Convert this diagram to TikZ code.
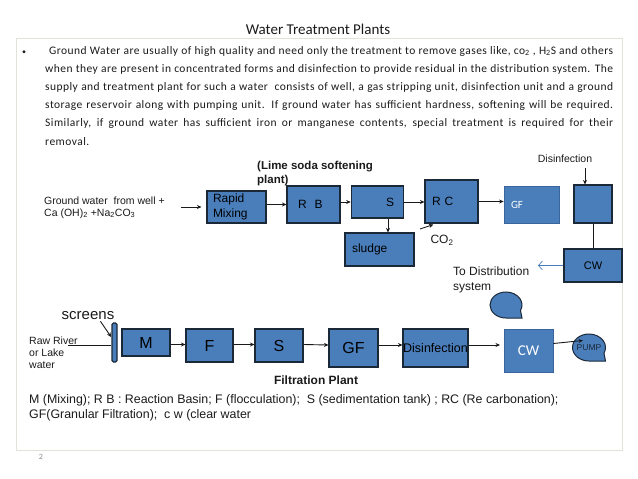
\documentclass[tikz,border=0pt]{standalone}
\usepackage{fontspec}
\setmainfont{Carlito}
\newfontfamily\arialf{Liberation Sans}
\newfontfamily\spacedf[LetterSpace=4]{Carlito}
\usetikzlibrary{arrows.meta, positioning, calc}
\definecolor{unitblue}{HTML}{4A7EBB}
\definecolor{unitedge}{HTML}{1B2838}
\definecolor{softedge}{HTML}{3A649C}
\definecolor{framegray}{HTML}{E2E2DA}
\definecolor{textdark}{HTML}{1A1A1A}
\newcommand{\seqstore}[4]{% x, y, x radius, y radius
  \draw[store] (#1,#2) ++(0,#4) arc[start angle=90, end angle=385, x radius=#3, y radius=#4] --
    (#1+#3,#2+#4) -- cycle;%
}
\tikzset{
  unit/.style={rectangle, draw=unitedge, fill=unitblue, line width=1.1pt, inner sep=0pt, text=black, font=\arialf\fontsize{12}{15}\selectfont},
  softunit/.style={unit, draw=softedge, line width=0.8pt, text=white},
  arr/.style={-{Stealth[length=4.5pt,width=4pt]}, line width=0.9pt, textdark},
  link/.style={line width=0.9pt, textdark},
  oarr/.style={-{Straight Barb[length=4pt,width=9pt]}, line width=0.7pt, unitblue},
  lbl/.style={inner sep=0pt, align=left, text=textdark, font=\arialf\fontsize{12}{15}\selectfont},
  store/.style={draw=unitedge, fill=unitblue, line width=1pt},
}

\begin{document}
\begin{tikzpicture}[x=1pt, y=-1pt]
  \useasboundingbox (0,0) rectangle (638,479);
  \draw[framegray, line width=0.6pt] (16,38) rectangle (622,450);

  % title and text
  \node[font=\fontsize{15}{17}\selectfont, text=textdark] (title) at (318,29) {Water Treatment Plants};
  \node[font=\fontsize{8}{10}\selectfont, text=textdark] (bullet) at (24,53) {•};
  \node[anchor=north west, inner sep=0pt, text width=568pt, align=justify, text=textdark,
    font=\spacedf\fontsize{11.5}{18.2}\selectfont] (intro) at (45,46)
    {\hspace*{4pt}Ground Water are usually of high quality and need only the treatment to remove gases like, co\textsubscript{2} , H\textsubscript{2}S and others\linebreak
    when they are present in concentrated forms and disinfection to provide residual in the distribution system. The\linebreak
    supply and treatment plant for such a water\ \ consists of well, a gas stripping unit, disinfection unit and a ground\linebreak
    storage reservoir along with pumping unit. If ground water has sufficient hardness, softening will be required.\linebreak
    Similarly, if ground water has sufficient iron or manganese contents, special treatment is required for their\linebreak
    removal.};

  % lime soda softening plant
  \node[lbl, anchor=west, font=\arialf\fontsize{10.5}{12}\selectfont] (well) at (44,207.5)
    {Ground water\ \ from well +\\Ca (OH)\textsubscript{2} +Na\textsubscript{2}CO\textsubscript{3}};
  \coordinate (wellend) at (181,207);
  \node[lbl, anchor=west, font=\arialf\bfseries\fontsize{11.5}{14}\selectfont] (limelab) at (257,174)
    {(Lime soda softening\\plant)};
  \node[unit, minimum height=32pt, text width=47pt, inner xsep=6pt, align=left] (mix) at (236.5,207) {Rapid\\Mixing};
  \node[unit, minimum height=37pt, text width=31pt, inner xsep=11pt, align=left] (rb) at (313.5,204.5) {R\ \ B};
  \node[unit, minimum height=32pt, text width=33.5pt, inner xsep=9.5pt, align=right] (sa) at (377.5,202) {S};
  \node[unit, minimum height=43pt, text width=39pt, inner xsep=7pt, align=left] (rc) at (451.5,201.5) {R C};
  \node[softunit, minimum height=37pt, text width=41pt, inner xsep=7pt, align=left,
    font=\fontsize{11}{13}\selectfont] (gfa) at (531.5,205) {GF};
  \node[unit, minimum width=38pt, minimum height=38pt] (disa) at (593,204) {};
  \node[unit, minimum width=58pt, minimum height=33pt, font=\arialf\fontsize{11}{13}\selectfont] (cwa) at (593,265.5) {CW};
  \node[unit, minimum height=33pt, text width=55pt, inner xsep=7pt, align=left] (sludge) at (379.5,249.5) {sludge};
  \node[lbl, font=\arialf\fontsize{10.5}{12}\selectfont] (dislab) at (565,159) {Disinfection};
  \node[lbl] (co2lab) at (442,240) {CO\textsubscript{2}};
  \coordinate (co2end) at (420,229);
  \node[lbl, anchor=west] (distlab) at (453,279.5) {To Distribution\\system};
  \coordinate (distend) at (538,265.5);

  \draw[arr, shorten >=5pt] (wellend) -- (wellend -| mix.west);
  \draw[arr] (mix.east |- rb.west) -- (rb.west);
  \draw[arr] (rb.east |- sa.west) -- (sa.west);
  \draw[arr] (sa.east) -- (sa.east -| rc.west);
  \draw[arr] (rc.east) -- (rc.east -| gfa.west);
  \draw[arr] ([xshift=10.5pt]sa.south) -- ([xshift=10.5pt]sa.south |- sludge.north);
  \draw[arr] (co2end) -- ([xshift=9pt,yshift=-1pt]rc.south west);
  \draw[arr] ([xshift=-8pt]disa.north |- dislab.south) ++(0,5) -- ([xshift=-8pt]disa.north);
  \draw[link] (disa) -- (cwa);
  \draw[oarr] (cwa.west) -- (distend);

  % filtration plant
  \node[lbl, font=\arialf\fontsize{15}{17}\selectfont] (scrlab) at (88,316) {screens};
  \node[lbl, anchor=west, font=\arialf\fontsize{10.5}{12}\selectfont] (raw) at (29,353) {Raw River\\or Lake\\water};
  \coordinate (rawend) at (68,345);
  \node[unit, minimum width=5pt, minimum height=39pt, rounded corners=1.5pt] (screen) at (114.5,342.5) {};
  \node[unit, minimum width=48pt, minimum height=27pt, font=\arialf\fontsize{16}{18}\selectfont] (m) at (146,342.5) {M};
  \node[unit, minimum width=47pt, minimum height=33pt, font=\arialf\fontsize{16}{18}\selectfont] (f) at (209.5,345.5) {F};
  \node[unit, minimum width=48pt, minimum height=33pt, font=\arialf\fontsize{16}{18}\selectfont] (sb) at (279,345.5) {S};
  \node[unit, minimum width=49pt, minimum height=38pt, font=\arialf\fontsize{16}{18}\selectfont] (gfb) at (353.5,348) {GF};
  \node[unit, minimum width=65pt, minimum height=38pt, font=\arialf\fontsize{12.5}{14}\selectfont] (disb) at (435.5,348) {Disinfection};
  \node[softunit, minimum width=49pt, minimum height=43pt, font=\fontsize{15}{17}\selectfont] (cwb) at (528.5,350.5) {CW};
  \seqstore{589}{347.5}{16.5}{13.5}
  \node[inner sep=0pt, text=unitedge, font=\arialf\fontsize{8.5}{10}\selectfont] (pump) at (589,347.5) {PUMP};
  \seqstore{506}{305}{16}{13}
  \coordinate (tank) at (506,305);
  \coordinate (cwbend) at (500,345);
  \node[lbl, font=\arialf\bfseries\fontsize{12}{14}\selectfont] (filtlab) at (316,380) {Filtration Plant};

  \draw[link] (rawend) -- (rawend -| screen.west);
  \draw[arr, shorten >=0.5pt] ([xshift=-14pt,yshift=-1pt]scrlab.south east) -- ([yshift=-15pt]screen.north west);
  \draw[arr] (m.east |- f.west) ++(0,-1) -- ([yshift=1pt]f.west);
  \draw[arr] ([yshift=1pt]f.east) -- ([yshift=1pt]sb.west);
  \draw[arr] ([yshift=1pt]sb.east) -- ([yshift=3pt]gfb.west);
  \draw[arr] ([yshift=3pt]gfb.east) -- ([yshift=3pt]disb.west);
  \draw[arr] ([yshift=3pt]disb.east) -- (cwbend);
  \draw[arr] ([yshift=7pt]cwb.east) -- ([xshift=-6pt,yshift=7pt]pump.center);

  % legend
  \node[lbl, anchor=west, font=\arialf\fontsize{12.4}{15}\selectfont] (legend) at (29,407.5)
    {M (Mixing); R B : Reaction Basin; F (flocculation);\ \ S (sedimentation tank) ; RC (Re carbonation);\\
     GF(Granular Filtration);\ \ c w (clear water};
  \node[text=black!45, font=\fontsize{8}{10}\selectfont] (pageno) at (41,457) {2};
\end{tikzpicture}
\end{document}
